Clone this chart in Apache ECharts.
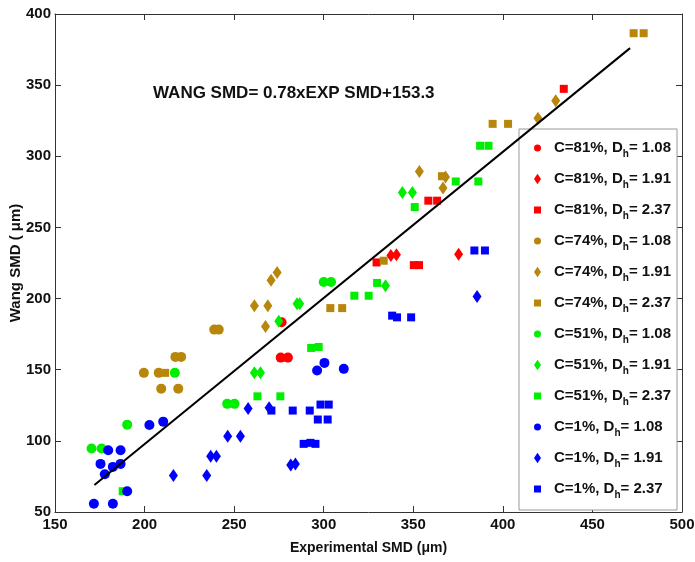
<!DOCTYPE html>
<html>
<head>
<meta charset="utf-8">
<script src="https://cdn.jsdelivr.net/npm/echarts@6/dist/echarts.min.js"></script>
<style>
html, body { margin: 0; padding: 0; background: #fff; }
#chart { width: 695px; height: 562px; }
</style>
</head>
<body>
<div id="chart"></div>
<script>
// values: [experimental SMD, Wang SMD]
var red108 = [[276, 158.5], [280, 158.5], [276.5, 183.3]]
var red191 = [[337.5, 230.3], [340.6, 230.8], [375.3, 231.2]]
var red237 = [[329.5, 225.4], [350.3, 223.5], [353.2, 223.5], [358.4, 268.8], [363.3, 268.8], [434, 347.4]]

var brown108 = [[199.6, 147.8], [207.9, 147.8], [217.2, 159], [220.4, 159], [209.3, 136.7], [218.8, 136.7],
  [238.9, 178.2], [241.4, 178.2]]
var brown191 = [[261.3, 195], [268.8, 195], [267.5, 180.3], [270.6, 212.8], [274, 218.4], [353.4, 289.3],
  [368, 285.5], [366.6, 277.7], [419.6, 326.8], [429.5, 339]]
var brown237 = [[211.5, 147.8], [303.7, 193.3], [310.3, 193.3], [333.5, 226.6], [366, 286], [394.3, 322.8],
  [402.9, 322.8], [473, 386.5], [478.6, 386.5]]

var green108 = [[170.4, 94.6], [176, 94.6], [190.3, 111.4], [216.9, 147.8], [246.1, 126], [250.2, 126],
  [300, 211.7], [304.1, 211.7]]
var green191 = [[261.3, 147.8], [264.7, 147.8], [274.9, 184], [285.1, 196.4], [286.6, 196.4], [334.5, 209],
  [343.9, 274.6], [349.5, 274.6]]
var green237 = [[187.8, 64.6], [263, 131.3], [275.8, 131.3], [293, 165.3], [297.2, 166], [317.1, 202],
  [325.1, 202], [329.8, 211], [350.8, 264.3], [373.7, 282.3], [386.3, 282.3], [387.3, 307.4], [392, 307.4]]

var blue108 = [[171.7, 55.8], [182.3, 55.8], [177.8, 76.5], [175.4, 83.8], [182.3, 81.7], [186.6, 83.8],
  [179.7, 93.4], [186.6, 93.4], [190.3, 64.6], [202.7, 111.2], [210.4, 113.5], [296.3, 149.4],
  [300.4, 154.8], [311.2, 150.6]]
var blue191 = [[216.1, 75.6], [234.7, 75.6], [236.9, 89.2], [240.1, 89.2], [246.4, 103.2], [253.5, 103.2],
  [257.8, 122.7], [269.5, 123.2], [281.6, 83.1], [284.2, 83.8], [385.6, 201.5]]
var blue237 = [[270.8, 121.3], [282.7, 121.3], [292.2, 121.3], [298.2, 125.5], [302.8, 125.5], [296.7, 115],
  [302.2, 115], [288.8, 97.9], [292.6, 98.6], [295.4, 97.9], [338.2, 188], [340.9, 186.8], [348.8, 186.8],
  [384.1, 233.8], [390, 233.8]]

// fitted line end points
var lineX = [172, 471]
var lineY = [69, 376]

var concLabels = ['81%', '74%', '51%', '1%']
var dhLabels = ['1.08', '1.91', '2.37']
var xTicks = [150, 500, 50]
var yTicks = [50, 400, 50]

var font = 'Liberation Sans, Arial, sans-serif'
var colors = ['#ff0000', '#b8860b', '#00ee00', '#0000ff']
var symbols = ['circle', 'diamond', 'rect']
var symbolSizes = [10, [9, 13], 8]
var legendIcons = ['circle', 'path://M0,-3L2,0L0,3L-2,0Z', 'path://M0,0L1,0L1,1L0,1Z']
var dataSets = [
  [red108, red191, red237],
  [brown108, brown191, brown237],
  [green108, green191, green237],
  [blue108, blue191, blue237]
]

var series = []
var legendData = []
concLabels.forEach(function (c, i) {
  dhLabels.forEach(function (d, j) {
    var name = 'C=' + c + ', Dh= ' + d
    legendData.push({ name: name, icon: legendIcons[j] })
    series.push({
      name: name,
      type: 'scatter',
      symbol: symbols[j],
      symbolSize: symbolSizes[j],
      itemStyle: { color: colors[i], opacity: 1 },
      data: dataSets[i][j]
    })
  })
})
series.push({
  name: 'fit',
  type: 'line',
  symbol: 'none',
  lineStyle: { color: '#000', width: 2 },
  data: lineX.map(function (x, k) { return [x, lineY[k]] }),
  z: 5
})

function axisX (pos, withLabel) {
  return {
    type: 'value',
    position: pos,
    min: xTicks[0],
    max: xTicks[1],
    interval: xTicks[2],
    axisLine: { show: true, onZero: false, lineStyle: { color: '#333', width: 1 } },
    axisTick: { show: true, inside: true, length: 6, lineStyle: { color: '#333' } },
    axisLabel: { show: withLabel, color: '#111', fontSize: 15, fontWeight: 'bold', fontFamily: font, margin: 5 },
    splitLine: { show: false }
  }
}
function axisY (pos, withLabel) {
  return {
    type: 'value',
    position: pos,
    min: yTicks[0],
    max: yTicks[1],
    interval: yTicks[2],
    axisLine: { show: true, onZero: false, lineStyle: { color: '#333', width: 1 } },
    axisTick: { show: true, inside: true, length: 6, lineStyle: { color: '#333' } },
    axisLabel: { show: withLabel, color: '#111', fontSize: 15, fontWeight: 'bold', fontFamily: font, margin: 4 },
    splitLine: { show: false }
  }
}

var xBottom = axisX('bottom', true)
xBottom.name = 'Experimental SMD (μm)'
xBottom.nameLocation = 'middle'
xBottom.nameGap = 29
xBottom.nameMoveOverlap = false
xBottom.nameTextStyle = { color: '#111', fontSize: 14, fontWeight: 'bold', fontFamily: font }
var yLeft = axisY('left', true)
yLeft.name = 'Wang SMD ( μm)'
yLeft.nameLocation = 'middle'
yLeft.nameGap = 32
yLeft.nameMoveOverlap = false
yLeft.nameTextStyle = { color: '#111', fontSize: 15, fontWeight: 'bold', fontFamily: font }

var chart = echarts.init(document.getElementById('chart'))
chart.setOption({
  animation: false,
  backgroundColor: '#fff',
  grid: { left: 55, right: 13, top: 14, bottom: 50, containLabel: false, outerBoundsMode: 'none' },
  xAxis: [xBottom, axisX('top', false)],
  yAxis: [yLeft, axisY('right', false)],
  legend: {
    orient: 'vertical',
    left: 519,
    top: 129,
    padding: [8, 6, 10, 15],
    itemGap: 9,
    itemWidth: 7,
    itemHeight: 11,
    backgroundColor: '#fff',
    borderColor: '#999',
    borderWidth: 1,
    data: legendData,
    formatter: function (name) {
      var parts = name.split('Dh')
      return '{a|' + parts[0] + 'D}{s|h}{a|' + parts[1] + '}'
    },
    textStyle: {
      padding: [0, 0, 0, 8],
      rich: {
        a: { fontSize: 15, fontWeight: 'bold', fontFamily: font, color: '#111', lineHeight: 16, verticalAlign: 'top' },
        s: { fontSize: 10, fontWeight: 'bold', fontFamily: font, color: '#111', lineHeight: 12, padding: [12, 0, 0, 0] }
      }
    }
  },
  graphic: [{
    type: 'text',
    left: 153,
    top: 85,
    style: { text: 'WANG SMD= 0.78xEXP SMD+153.3', font: 'bold 17px ' + font, fill: '#111' }
  }],
  series: series
})
</script>
</body>
</html>
